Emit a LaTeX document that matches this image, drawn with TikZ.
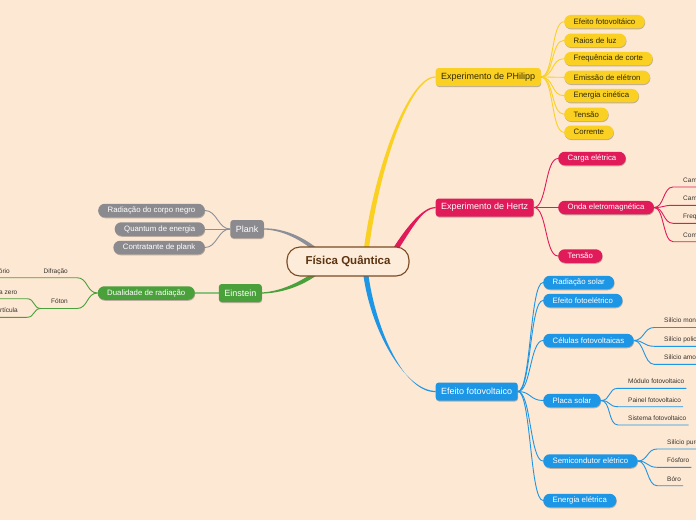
\documentclass[tikz,border=0pt]{standalone}
\usepackage{fontspec}
\setmainfont{Liberation Sans}
\usetikzlibrary{shadows,calc}
\pgfdeclarelayer{bglayer}
\pgfsetlayers{bglayer,main}
\definecolor{bgc}{RGB}{253,232,211}
\definecolor{yel}{RGB}{250,209,35}
\definecolor{pnk}{RGB}{225,27,90}
\definecolor{blu}{RGB}{30,150,230}
\definecolor{gry}{RGB}{139,139,143}
\definecolor{gryl}{RGB}{138,143,152}
\definecolor{grn}{RGB}{74,160,58}
\definecolor{brn}{RGB}{122,75,35}
\definecolor{brnt}{RGB}{92,52,16}
\definecolor{cfill}{RGB}{254,236,219}
\definecolor{ytext}{RGB}{50,40,5}
\definecolor{ltext}{RGB}{55,50,45}
\tikzset{
  shad/.style={drop shadow={shadow xshift=0.4pt,shadow yshift=-1pt,opacity=0.25,fill=black}},
  mainbox/.style={shad,rounded corners=3pt,minimum height=18pt,inner xsep=5.5pt,inner ysep=0pt,font=\fontsize{9}{10}\selectfont,text=white},
  pill/.style={shad,rounded corners=6.7pt,minimum height=13.5pt,inner xsep=9.5pt,inner ysep=0pt,font=\fontsize{7.8}{9}\selectfont,text=white},
  ulr/.style={anchor=south west,inner xsep=0pt,inner ysep=2.8pt,text height=5pt,text depth=1.6pt,font=\fontsize{6.5}{7.5}\selectfont,text=ltext,execute at begin node={\kern10pt},execute at end node={\kern2pt}},
  ull/.style={anchor=south east,inner xsep=0pt,inner ysep=2.8pt,text height=5pt,text depth=1.6pt,font=\fontsize{6.5}{7.5}\selectfont,text=ltext,execute at end node={\kern9pt}},
  sub/.style={line width=0.9pt},
}
\begin{document}
\begin{tikzpicture}[x=1pt,y=-1pt]
\useasboundingbox (0,0) rectangle (696,520);

% central
\node[draw=brn,line width=1.1pt,fill=cfill,rounded corners=13pt,minimum width=122pt,minimum height=29pt,text=brnt,font=\bfseries\fontsize{11.5}{13}\selectfont] (c) at (348,261.5) {Física Quântica};

% main topics
\node[mainbox,fill=yel,text=ytext,anchor=west] (phil) at (435.5,77) {Experimento de PHilipp};
\node[mainbox,fill=pnk,anchor=west] (hertz) at (435.5,207.5) {Experimento de Hertz};
\node[mainbox,fill=blu,anchor=west] (efo) at (435.5,391.5) {Efeito fotovoltaico};
\node[mainbox,fill=gry,anchor=east] (plank) at (264,229) {Plank};
\node[mainbox,fill=grn,anchor=east] (ein) at (262,293) {Einstein};

% yellow
\node[pill,fill=yel,text=ytext,anchor=west] (y1) at (564,21.7) {Efeito fotovoltáico};
\node[pill,fill=yel,text=ytext,anchor=west] (y2) at (564,40.3) {Raios de luz};
\node[pill,fill=yel,text=ytext,anchor=west] (y3) at (564,58.7) {Frequência de corte};
\node[pill,fill=yel,text=ytext,anchor=west] (y4) at (564,77.3) {Emissão de elétron};
\node[pill,fill=yel,text=ytext,anchor=west] (y5) at (564,95.7) {Energia cinética};
\node[pill,fill=yel,text=ytext,anchor=west] (y6) at (564,114.3) {Tensão};
\node[pill,fill=yel,text=ytext,anchor=west] (y7) at (564,132.3) {Corrente};

% pink
\node[pill,fill=pnk,anchor=west] (p1) at (558,158.5) {Carga elétrica};
\node[pill,fill=pnk,anchor=west] (p2) at (558,207.5) {Onda eletromagnética};
\node[pill,fill=pnk,anchor=west] (p3) at (558,256) {Tensão};
\node[ulr] (o1) at (673,187) {Campo elétrico};
\node[ulr] (o2) at (673,205.3) {Campo magnético};
\node[ulr] (o3) at (673,223.3) {Frequência};
\node[ulr] (o4) at (673,241.7) {Comprimento de onda};

% blue
\node[pill,fill=blu,anchor=west] (b1) at (543,282.5) {Radiação solar};
\node[pill,fill=blu,anchor=west] (b2) at (543,300.5) {Efeito fotoelétrico};
\node[pill,fill=blu,anchor=west] (b3) at (543,340.5) {Células fotovoltaicas};
\node[pill,fill=blu,anchor=west] (b4) at (543,400.5) {Placa solar};
\node[pill,fill=blu,anchor=west] (b5) at (543,461) {Semicondutor elétrico};
\node[pill,fill=blu,anchor=west] (b6) at (543,500.5) {Energia elétrica};
\node[ulr] (s1) at (654,327.5) {Silício monocristalino};
\node[ulr] (s2) at (654,346.3) {Silício policristalino};
\node[ulr] (s3) at (654,364.3) {Silício amorfo};
\node[ulr] (m1) at (618,388.3) {Módulo fotovoltaico};
\node[ulr] (m2) at (618,406.7) {Painel fotovoltaico};
\node[ulr] (m3) at (618,425) {Sistema fotovoltaico};
\node[ulr] (e1) at (657,449) {Silício puro};
\node[ulr] (e2) at (657,467.3) {Fósforo};
\node[ulr] (e3) at (657,485.7) {Bóro};

% gray
\node[pill,fill=gry,anchor=east] (g1) at (205,210.5) {Radiação do corpo negro};
\node[pill,fill=gry,anchor=east] (g2) at (205,229) {Quantum de energia};
\node[pill,fill=gry,anchor=east] (g3) at (205,247.5) {Contratante de plank};

% green
\node[pill,fill=grn,anchor=east] (d) at (195,293) {Dualidade de radiação};
\node[ull] (l1) at (77,277.7) {Difração};
\node[ull,execute at end node={\kern1.5pt}] (l0) at (20.5,277.7) {Comportamento ondulatório};
\node[ull,execute at begin node={\kern10pt}] (l2) at (77,308.5) {Fóton};
\node[ull,execute at end node={\kern0.5pt}] (l3) at (27,298.7) {Massa zero};
\node[ull] (l4) at (27,317.3) {Partícula};

\begin{pgfonlayer}{bglayer}
\fill[bgc] (0,0) rectangle (696,520);
% tapered main branches
\fill[yel] ($(c.center)+(15.5,-9.5)$) .. controls (373.5,170) and (408,76.4) .. ($(phil.west)+(0,-0.6)$) -- ($(phil.west)+(0,0.6)$) .. controls (409,78) and (378.5,171) .. ($(c.center)+(20.5,-9.5)$) -- cycle;
\fill[pnk] ($(c.center)+(44,-11.5)$) .. controls (409,223) and (424,207) .. ($(hertz.west)+(0,-0.6)$) -- ($(hertz.west)+(0,0.6)$) .. controls (423,208.5) and (414,225) .. ($(c.center)+(49,-10)$) -- cycle;
\fill[blu] ($(c.center)+(15,10.5)$) .. controls (370,330) and (405,390.9) .. ($(efo.west)+(0,-0.6)$) -- ($(efo.west)+(0,0.6)$) .. controls (404,392.5) and (375.5,330) .. ($(c.center)+(20,10.5)$) -- cycle;
\fill[gryl] ($(c.center)+(-30.8,-13.1)$) .. controls (300,234.5) and (280,228) .. ($(plank.east)+(0,-0.6)$) -- ($(plank.east)+(0,0.6)$) .. controls (280,229.8) and (298,237.5) .. ($(c.center)+(-33.2,-9.9)$) -- cycle;
\fill[grn] ($(c.center)+(-34.2,10.9)$) .. controls (298,283) and (280,291.5) .. ($(ein.east)+(0,-0.6)$) -- ($(ein.east)+(0,0.6)$) .. controls (281,293) and (300,287) .. ($(c.center)+(-31.8,14.1)$) -- cycle;

% sub connectors
\foreach \i in {1,...,7} \draw[sub,yel] (phil.east) .. controls +(13,0) and +(-13,0) .. (y\i.west);
\foreach \i in {1,2,3} \draw[sub,pnk] (hertz.east) .. controls +(13,0) and +(-13,0) .. (p\i.west);
\foreach \i in {1,...,4} \draw[sub,pnk] (p2.east) .. controls +(10,0) and +(-10,0) .. (o\i.south west) -- (o\i.south east);
\foreach \i in {1,...,6} \draw[sub,blu] (efo.east) .. controls +(13,0) and +(-13,0) .. (b\i.west);
\foreach \i in {1,2,3} \draw[sub,blu] (b3.east) .. controls +(10,0) and +(-10,0) .. (s\i.south west) -- (s\i.south east);
\foreach \i in {1,2,3} \draw[sub,blu] (b4.east) .. controls +(10,0) and +(-10,0) .. (m\i.south west) -- (m\i.south east);
\foreach \i in {1,2,3} \draw[sub,blu] (b5.east) .. controls +(10,0) and +(-10,0) .. (e\i.south west) -- (e\i.south east);
\foreach \i in {1,2,3} \draw[sub,gryl] (plank.west) .. controls +(-12,0) and +(12,0) .. (g\i.east);
\draw[grn!65,line width=1.5pt] (ein.west) -- (d.east);
\draw[sub,grn] (d.west) .. controls +(-11,0) and +(11,0) .. (l1.south east) -- (l1.south west) -- (l0.south east) -- (l0.south west);
\draw[sub,grn] (d.west) .. controls +(-11,0) and +(11,0) .. (l2.south east) -- (l2.south west);
\draw[sub,grn] (l2.south west) .. controls +(-8,0) and +(8,0) .. (l3.south east) -- (l3.south west);
\draw[sub,grn] (l2.south west) .. controls +(-8,0) and +(8,0) .. (l4.south east) -- (l4.south west);
\end{pgfonlayer}
\end{tikzpicture}
\end{document}
